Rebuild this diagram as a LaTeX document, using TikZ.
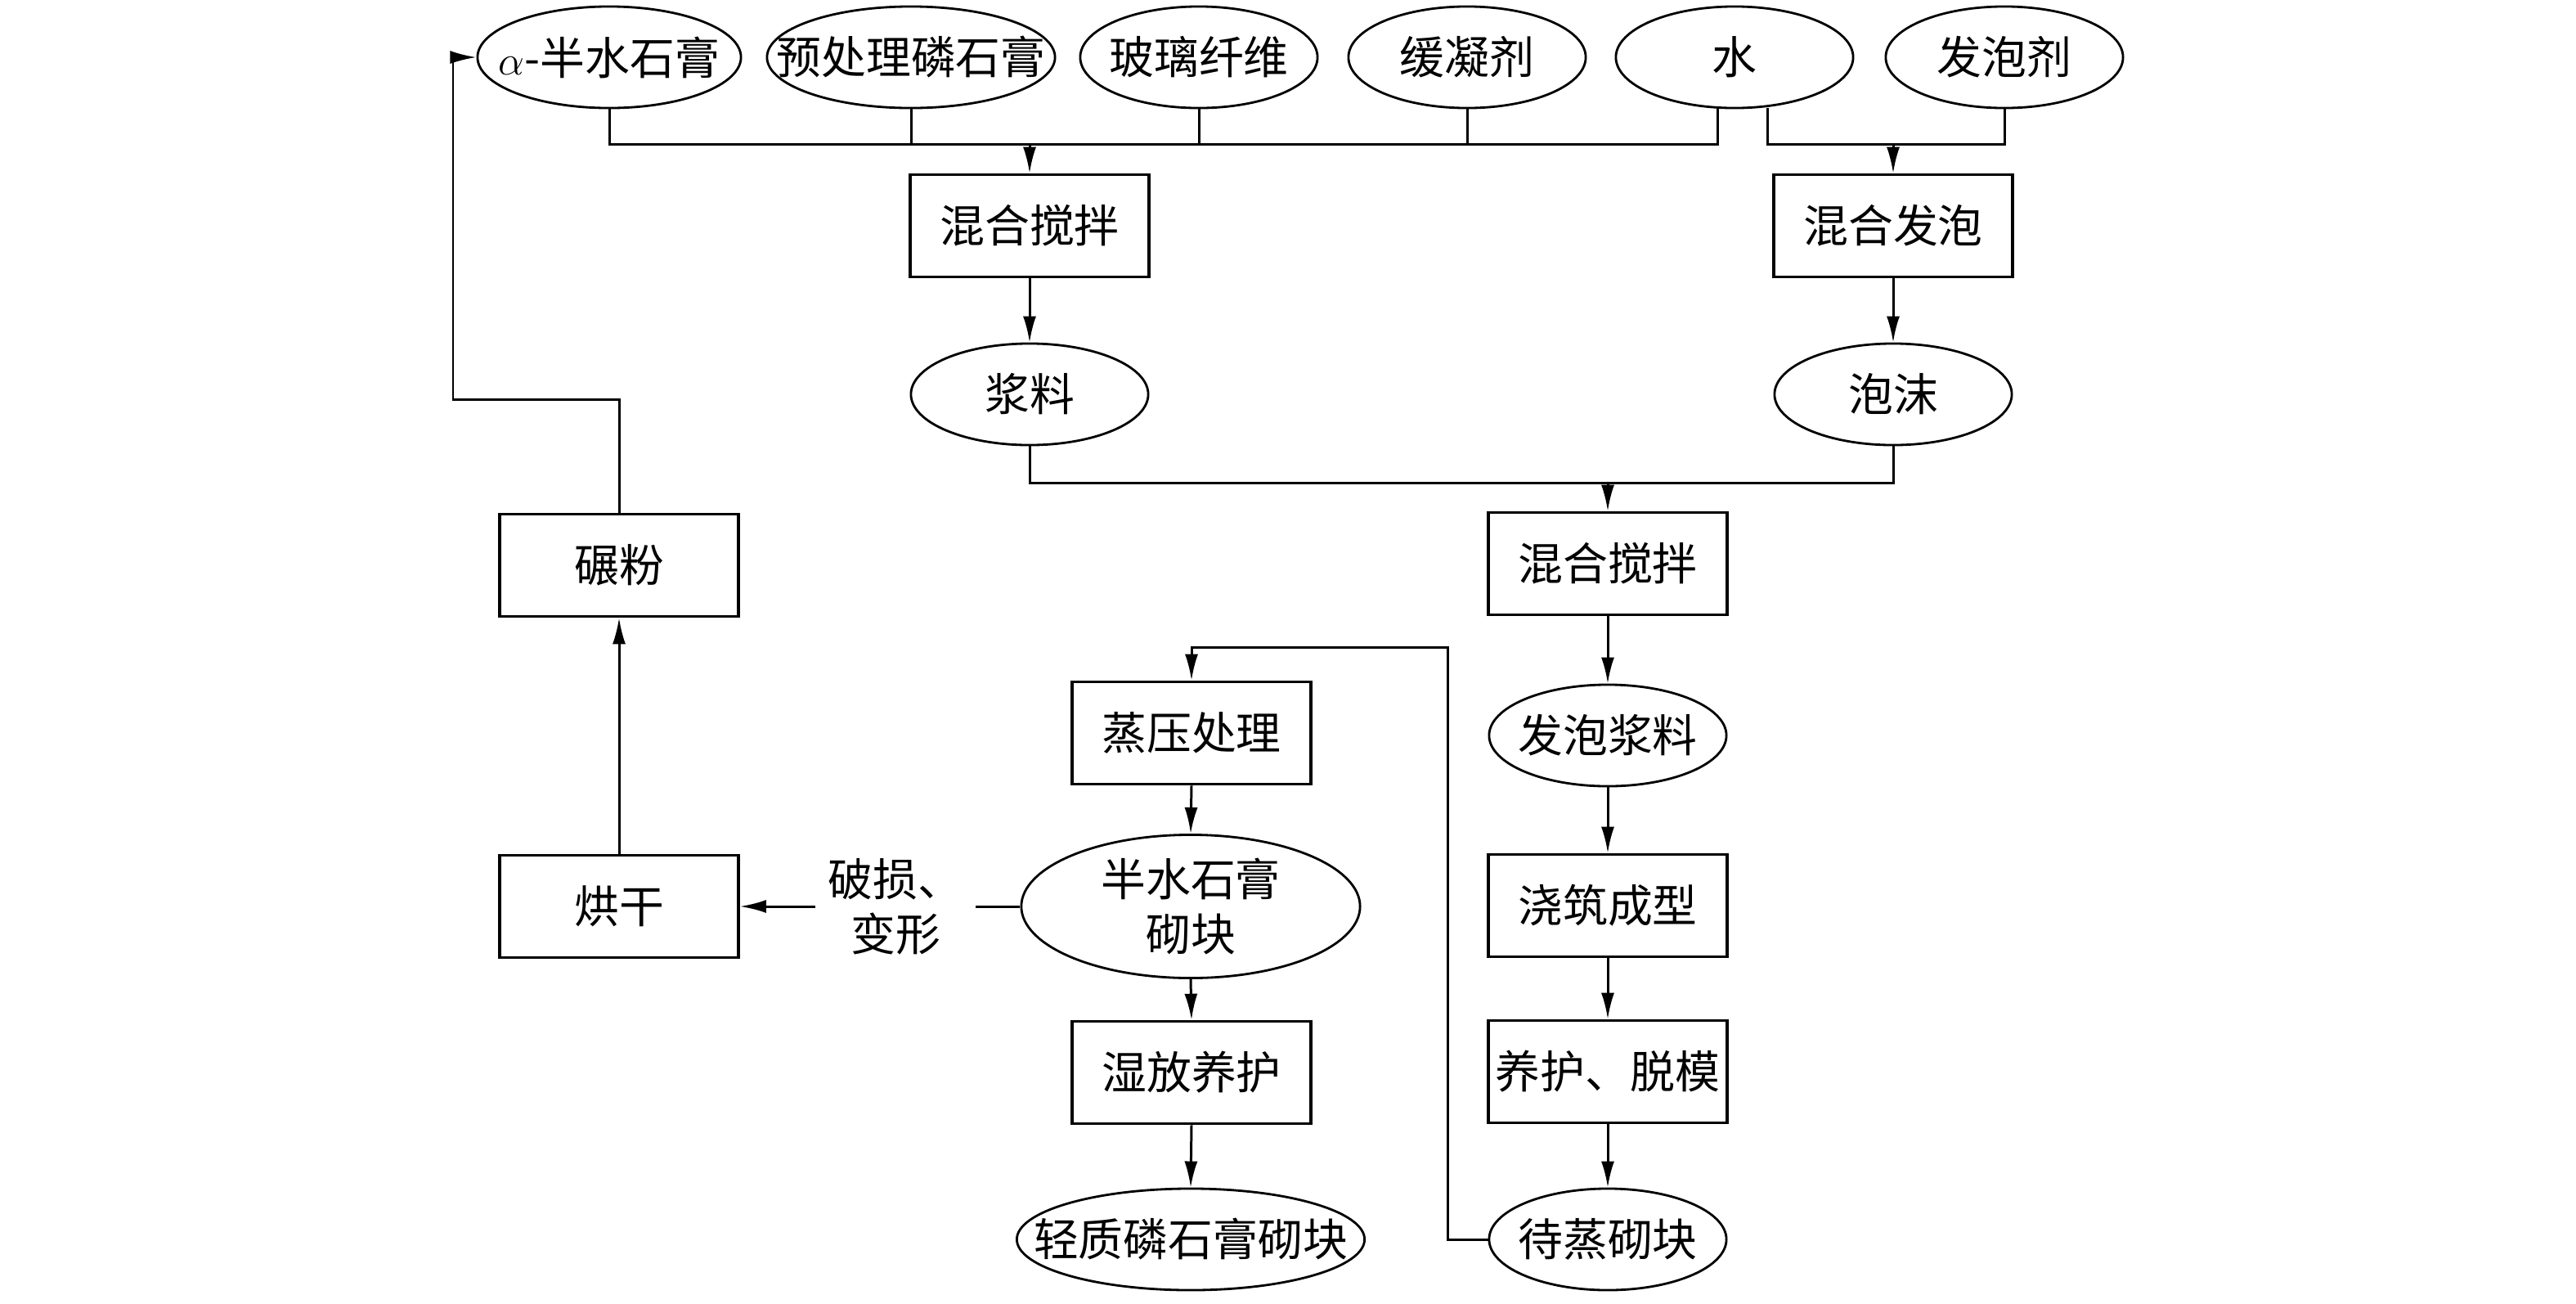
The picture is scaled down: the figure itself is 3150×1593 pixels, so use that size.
\documentclass[tikz,border=0pt]{standalone}
\usepackage{fontspec}
\setmainfont{Noto Sans CJK SC}
\usetikzlibrary{shapes.geometric, arrows.meta}

\begin{document}
\begin{tikzpicture}[
  x=0.01cm, y=-0.01cm,
  font=\fontsize{15.6}{19}\selectfont,
  procbox/.style={rectangle, draw, line width=1pt, minimum width=2.92cm, minimum height=1.25cm, inner sep=0pt, text centered},
  matnode/.style={ellipse, draw, line width=0.8pt, minimum width=2.9cm, minimum height=1.24cm, inner xsep=-1cm, inner ysep=-0.3cm, text centered},
  flow/.style={-{Latex[length=3.2mm,width=1.6mm]}, line width=0.85pt},
  joint/.style={line width=0.85pt}
]
\useasboundingbox (0,0) rectangle (3150,1593);

% Raw materials
\node[matnode, minimum width=3.22cm] (alpha) at (745,70) {$\alpha$-半水石膏};
\node[matnode, minimum width=3.52cm] (pretreat) at (1114,70) {预处理磷石膏};
\node[matnode] (fibre) at (1466,70) {玻璃纤维};
\node[matnode] (retarder) at (1794,70) {缓凝剂};
\node[matnode] (water) at (2121,70) {水};
\node[matnode] (agent) at (2451,70) {发泡剂};

% Slurry and foam
\node[procbox] (mixA) at (1259,276) {混合搅拌};
\node[matnode] (slurry) at (1259,482) {浆料};
\node[procbox] (foamer) at (2315,276) {混合发泡};
\node[matnode] (foam) at (2315,482) {泡沫};

% Main line
\node[procbox] (mixB) at (1966,689) {混合搅拌};
\node[matnode] (foamslurry) at (1966,899) {发泡浆料};
\node[procbox] (casting) at (1966,1107) {浇筑成型};
\node[procbox] (demould) at (1966,1310) {养护、脱模};
\node[matnode] (green) at (1966,1515) {待蒸砌块};

% Autoclave line
\node[procbox] (autoclave) at (1457,896) {蒸压处理};
\node[matnode, minimum width=4.14cm, minimum height=1.75cm, align=center] (hemiblock) at (1456,1108) {半水石膏\\砌块};
\node[procbox] (wetcure) at (1457,1311) {湿放养护};
\node[matnode, minimum width=4.25cm] (product) at (1456,1515) {轻质磷石膏砌块};

% Recycling of broken blocks
\node[align=center, inner xsep=0.15cm] (broken) at (1095,1108) {破损、\\变形};
\node[procbox] (drying) at (757,1108) {烘干};
\node[procbox] (grinding) at (757,691) {碾粉};

% Helper points
\coordinate (waterL) at (2100,132);
\coordinate (waterR) at (2161,132);
\coordinate (busA) at (0,176);
\coordinate (busB) at (0,590);
\coordinate (loopTop) at (1770,791);
\coordinate (loopLeft) at (554,488);

% Feed lines
\draw[joint] (alpha.south) |- (busA -| waterL) -- (waterL);
\foreach \src in {pretreat, fibre, retarder}
  \draw[joint] (\src.south) -- (\src.south |- busA);
\draw[flow] (busA -| mixA) -- (mixA.north);
\draw[joint] (waterR) |- (busA -| agent) -- (agent.south);
\draw[flow] (busA -| foamer) -- (foamer.north);

% Arrows
\draw[flow] (mixA.south) -- (slurry.north);
\draw[flow] (foamer.south) -- (foam.north);
\draw[joint] (slurry.south) |- (busB -| foam) -- (foam.south);
\draw[flow] (busB -| mixB) -- (mixB.north);
\draw[flow] (mixB.south) -- (foamslurry.north);
\draw[flow] (foamslurry.south) -- (casting.north);
\draw[flow] (casting.south) -- (demould.north);
\draw[flow] (demould.south) -- (green.north);

\draw[flow] (green.west) -| (loopTop) -| (autoclave.north);
\draw[flow] (autoclave.south) -- (hemiblock.north);
\draw[flow] (hemiblock.south) -- (wetcure.north);
\draw[flow] (wetcure.south) -- (product.north);

% Back to raw material
\draw[joint] (hemiblock.west) -- (broken.east);
\draw[flow] (broken.west) -- (drying.east);
\draw[flow] (drying.north) -- (grinding.south);
\draw[flow] (grinding.north) |- (loopLeft) |- (alpha.west);

\end{tikzpicture}
\end{document}
